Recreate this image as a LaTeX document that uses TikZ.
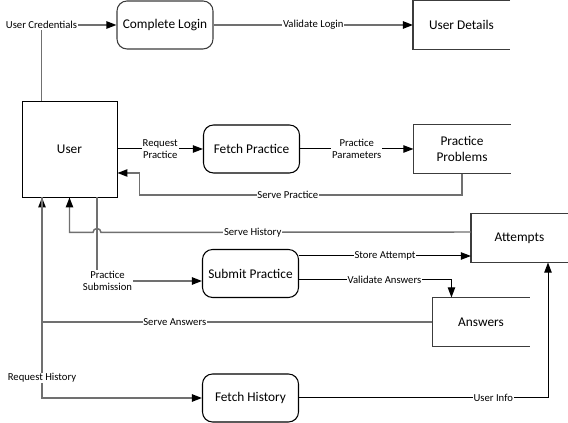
\documentclass[tikz,border=0pt]{standalone}
\usepackage{fontspec}
\setmainfont{Carlito}
\usetikzlibrary{arrows.meta,calc}
\definecolor{boxc}{HTML}{3C3C3C}
\definecolor{lnc}{HTML}{707070}

\begin{document}
\begin{tikzpicture}[x=0.75pt,y=-0.75pt,
box/.style={draw=boxc,line width=0.8pt,minimum width=72pt,minimum height=36pt,align=center,font=\fontsize{10}{12}\selectfont},
proc/.style={box,rounded corners=7.5pt},
store/.style={box,draw=none},
lbl/.style={fill=white,inner sep=0.6pt,align=center,font=\fontsize{8}{9.5}\selectfont},
flow/.style={draw=lnc,line width=1.1pt,-{Triangle[length=7.5pt,width=5.5pt,black]}},
dflow/.style={flow,draw=black,line width=0.75pt}]
\useasboundingbox (0,0) rectangle (568,423);

\node[box,draw=black,line width=0.7pt,minimum width=71.25pt,minimum height=72pt] (user) at (69.5,149) {User};
\node[proc] (login) at (165,25) {Complete Login};
\node[store] (ud) at (461.5,25) {User Details};
\node[proc,draw=black] (fp) at (251.5,149) {Fetch Practice};
\node[store] (pp) at (462,149) {Practice\\Problems};
\node[store] (att) at (519.5,238) {Attempts};
\node[proc,draw=black] (sp) at (250.5,273.5) {Submit Practice};
\node[store] (ans) at (481,322) {Answers};
\node[proc,draw=black] (fh) at (250.5,398) {Fetch History};
\foreach \s in {ud,pp,att,ans}
  \draw[draw=boxc,line width=0.8pt] (\s.north east) -- (\s.north west) -- (\s.south west) -- (\s.south east);

\coordinate (jmp) at ($(user.south)+(27.5,35)$);
\coordinate (sa) at ($(sp.east)+(0,-17.5)$);
\coordinate (va) at ($(sp.east)+(0,6)$);
\coordinate (ucol) at ($(user.south)+(-27.5,0)$);

\draw[flow] ($(user.north west)+(20,0)$) |- node[lbl,pos=.5]{User Credentials} (login.west);
\draw[flow] (login) -- node[lbl]{Validate Login} (ud);
\draw[dflow] (user.east) -- node[lbl]{Request\\Practice} (fp);
\draw[dflow] (fp) -- node[lbl]{Practice\\Parameters} (pp);
\draw[flow] (pp.south) |- node[lbl,pos=.77]{Serve Practice} ($(user.east)+(22,46)$) -- ($(user.east)+(22,24)$) -- ($(user.east)+(0,24)$);
\draw[flow] ($(att.west)+(0,-6)$) -- node[lbl,pos=.59]{Serve History} ($(jmp)+(4,0)$) arc[start angle=0,end angle=180,radius=3pt] -- (user.south |- jmp) -- (user.south);
\draw[flow] ($(user.south)+(27.5,0)$) |- node[lbl,pos=.55]{Practice\\Submission} ($(sp.west)+(0,7.5)$);
\draw[dflow] (sa) -- node[lbl]{Store Attempt} (sa -| att.west);
\draw[dflow] (va) -| node[lbl,pos=.28]{Validate Answers} ($(ans.north west)+(19,0)$);
\draw[flow] (ans.west) -| node[lbl,pos=.33]{Serve Answers} (ucol);
\draw[flow] (ucol) |- node[lbl,pos=.45]{Request History} (fh.west);
\draw[dflow] (fh.east) -| node[lbl,pos=.39]{User Info} ($(att.south)+(28.5,0)$);
\end{tikzpicture}
\end{document}
